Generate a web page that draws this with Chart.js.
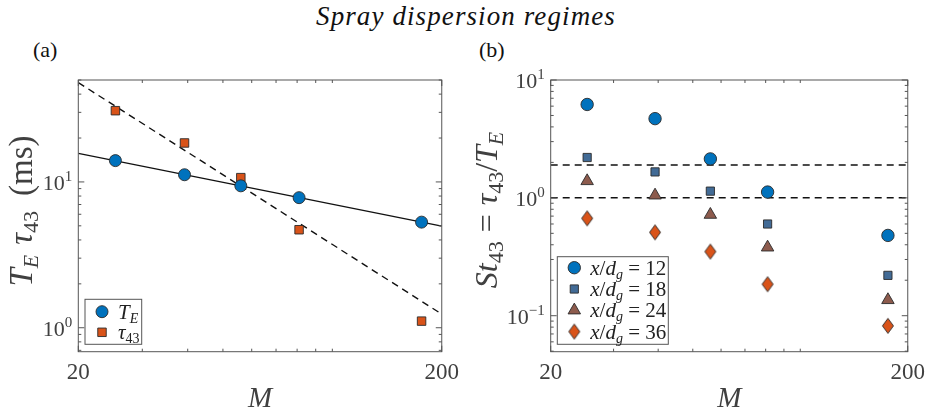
<!DOCTYPE html>
<html>
<head>
<meta charset="utf-8">
<script src="https://cdn.jsdelivr.net/npm/chart.js@4/dist/chart.umd.min.js"></script>
<style>
body { margin: 0; background: #fff; width: 932px; height: 414px; position: relative; overflow: hidden; font-family: "Liberation Serif", serif; }
#title { position: absolute; left: 0; width: 932px; top: 1px; text-align: center; font-style: italic; font-size: 27px; letter-spacing: 1.1px; color: #111; }
.pan { position: absolute; top: 0; width: 466px; height: 414px; }
.lab { position: absolute; top: 37px; font-size: 22px; color: #111; }
</style>
</head>
<body>
<div id="title">Spray dispersion regimes</div>
<div class="lab" style="left:33px">(a)</div>
<div class="lab" style="left:479px">(b)</div>
<div class="pan" style="left:0"><canvas id="chartA" width="466" height="414"></canvas></div>
<div class="pan" style="left:466px"><canvas id="chartB" width="466" height="414"></canvas></div>
<script>
"use strict"

// data
const mVals = [25.3, 39.2, 56, 81, 176];
const teVals = [14.0, 11.2, 9.4, 7.8, 5.3];      // T_E (ms)
const tauVals = [30.8, 18.5, 10.7, 4.7, 1.11];   // tau_43 (ms)
const fitM = [20, 200];
const fitTe = [15.7, 4.97];
const fitTau = [48, 1.24];

const st12 = [6.2, 4.7, 2.14, 1.12, 0.48];
const st18 = [2.2, 1.66, 1.14, 0.60, 0.22];
const st24 = [1.39, 1.05, 0.72, 0.38, 0.136];
const st36 = [0.67, 0.51, 0.35, 0.185, 0.082];
const stLines = [1.9, 1.0];

const xTicks = [20, 200];
const yTicksA = [1, 10];
const yTicksB = [0.1, 1, 10];

const blue = "#0072BD", orange = "#D95319", slate = "#426B96", brown = "#8D5B4D";
const edge = "#2a2a2a", axisCol = "#555555", textCol = "#404040";
const serif = "'Liberation Serif', serif";

function pts(xs, ys) { return xs.map((x, i) => ({ x: x, y: ys[i] })); }

// diamond marker (taller than wide)
function diamond() {
    const c = document.createElement("canvas");
    c.width = 14; c.height = 18;
    const g = c.getContext("2d");
    g.beginPath();
    g.moveTo(7, 1.5); g.lineTo(12.5, 9); g.lineTo(7, 16.5); g.lineTo(1.5, 9); g.closePath();
    g.fillStyle = orange; g.fill();
    g.strokeStyle = edge; g.lineWidth = 0.9; g.stroke();
    return c;
}
const dia = diamond();

// draw text made of pieces: [text, size, italic, dy]
function rich(ctx, parts, x, y, align) {
    let w = 0;
    parts.forEach(p => { ctx.font = (p[2] ? "italic " : "") + p[1] + "px " + serif; w += ctx.measureText(p[0]).width; });
    let cx = align === "center" ? x - w / 2 : align === "right" ? x - w : x;
    ctx.textAlign = "left";
    ctx.textBaseline = "alphabetic";
    parts.forEach(p => {
        ctx.font = (p[2] ? "italic " : "") + p[1] + "px " + serif;
        ctx.fillText(p[0], cx, y + (p[3] || 0));
        cx += ctx.measureText(p[0]).width;
    });
}

function minorVals(min, max) {
    let out = [];
    for (let e = -3; e <= 3; e++) {
        for (let k = 1; k <= 9; k++) {
            let v = k * Math.pow(10, e);
            if (v >= min * 0.999 && v <= max * 1.001) out.push({ v: v, major: k === 1 });
        }
    }
    return out;
}

// frame box with inward ticks on all four sides, y labels as 10^n
const frame = {
    id: "frame",
    afterDraw(chart, args, opts) {
        const ctx = chart.ctx, a = chart.chartArea, x = chart.scales.x, y = chart.scales.y;
        ctx.save();
        ctx.strokeStyle = axisCol;
        ctx.lineWidth = 1;
        ctx.strokeRect(a.left, a.top, a.right - a.left, a.bottom - a.top);
        ctx.beginPath();
        minorVals(x.min, x.max).forEach(t => {
            const px = x.getPixelForValue(t.v);
            const major = xTicks.includes(Math.round(t.v));
            const len = major ? 6 : 3;
            ctx.moveTo(px, a.bottom); ctx.lineTo(px, a.bottom - len);
            ctx.moveTo(px, a.top); ctx.lineTo(px, a.top + len);
        });
        minorVals(y.min, y.max).forEach(t => {
            const py = y.getPixelForValue(t.v);
            const len = t.major ? 6 : 3;
            ctx.moveTo(a.left, py); ctx.lineTo(a.left + len, py);
            ctx.moveTo(a.right, py); ctx.lineTo(a.right - len, py);
        });
        ctx.stroke();

        ctx.fillStyle = textCol;
        opts.yTicks.forEach(v => {
            const py = y.getPixelForValue(v);
            const ex = String(Math.round(Math.log10(v))).replace("-", "\u2212");
            rich(ctx, [["10", 22, false], [ex, 15, false, -9]], a.left - 6, py + 8, "right");
        });

        rich(ctx, [["M", 29, true]], (a.left + a.right) / 2, 407, "center");

        ctx.translate(opts.titleX, opts.titleY);
        ctx.rotate(-Math.PI / 2);
        rich(ctx, opts.title, 0, 0, "center");
        ctx.restore();
    }
};

// legend inside the plot
const box = {
    id: "box",
    afterDraw(chart, args, opts) {
        const ctx = chart.ctx;
        ctx.save();
        ctx.fillStyle = "#fff";
        ctx.strokeStyle = axisCol;
        ctx.lineWidth = 1;
        ctx.fillRect(opts.x, opts.y, opts.w, opts.h);
        ctx.strokeRect(opts.x, opts.y, opts.w, opts.h);
        opts.rows.forEach((r, i) => {
            const ds = chart.data.datasets[i];
            const cy = opts.y + opts.first + i * opts.step;
            ctx.fillStyle = ds.backgroundColor;
            ctx.strokeStyle = ds.borderColor;
            ctx.lineWidth = ds.borderWidth;
            Chart.helpers.drawPoint(ctx, { pointStyle: ds.pointStyle, radius: ds.pointRadius, rotation: 0, borderWidth: ds.borderWidth }, opts.x + opts.mx, cy);
            ctx.fillStyle = "#222";
            rich(ctx, r, opts.x + opts.tx, cy + 7, "left");
        });
        ctx.restore();
    }
};

function xScale(height) {
    return {
        type: "logarithmic", min: 20, max: 200,
        afterBuildTicks: s => { s.ticks = xTicks.map(v => ({ value: v })); },
        afterFit: s => { s.height = height; },
        ticks: { font: { family: serif, size: 23 }, color: textCol, padding: 7, maxRotation: 0, autoSkip: false, callback: v => String(v) },
        grid: { display: false, drawTicks: false },
        border: { display: false }
    };
}
function yScale(min, max, width, ticks) {
    return {
        type: "logarithmic", min: min, max: max,
        afterBuildTicks: s => { s.ticks = ticks.map(v => ({ value: v })); },
        afterFit: s => { s.width = width; },
        ticks: { display: false },
        grid: { display: false, drawTicks: false },
        border: { display: false }
    };
}
function marker(label, data, style, color, r) {
    return { label: label, data: data, pointStyle: style, pointRadius: r, pointHoverRadius: r,
        backgroundColor: color, borderColor: edge, borderWidth: 0.9, order: 1 };
}
function line(data, dash, w) {
    return { type: "line", data: data, showLine: true, borderColor: "#111", borderWidth: w,
        borderDash: dash, pointRadius: 0, fill: false, order: 2 };
}

new Chart(document.getElementById("chartA"), {
    type: "scatter",
    data: {
        datasets: [
            marker("T_E", pts(mVals, teVals), "circle", blue, 6),
            marker("tau_43", pts(mVals, tauVals), "rect", orange, 6),
            line(pts(fitM, fitTe), [], 1.2),
            line(pts(fitM, fitTau), [7, 5], 1.4)
        ]
    },
    options: {
        responsive: false, animation: false,
        layout: { padding: { top: 80, right: 20.7, left: 0, bottom: 0 } },
        scales: { x: xScale(62.3), y: yScale(0.685, 50, 78.3, yTicksA) },
        plugins: {
            legend: { display: false }, tooltip: { enabled: false },
            frame: { yTicks: yTicksA, titleX: 32, titleY: 211,
                title: [["T", 33, true], ["E", 22, true, 6], ["  ", 20, false], ["\u03c4", 33, true], ["43", 22, false, 6], ["   ", 20, false], ["(ms)", 33, false]] },
            box: { x: 85, y: 299.3, w: 56.7, h: 45, first: 12.4, step: 20.6, mx: 17, tx: 33,
                rows: [[["T", 21, true], ["E", 14, true, 4]], [["\u03c4", 21, true], ["43", 14, false, 4]]] }
        }
    },
    plugins: [frame, box]
});

const legRow = n => [["x", 21, true], ["/", 21, false], ["d", 21, true], ["g", 14, true, 4], [" = " + n, 21, false]];

new Chart(document.getElementById("chartB"), {
    type: "scatter",
    data: {
        datasets: [
            marker("x/dg = 12", pts(mVals, st12), "circle", blue, 6.2),
            marker("x/dg = 18", pts(mVals, st18), "rect", slate, 5.8),
            marker("x/dg = 24", pts(mVals, st24), "triangle", brown, 7.2),
            marker("x/dg = 36", pts(mVals, st36), dia, orange, 7),
            line(pts(fitM, [stLines[0], stLines[0]]), [7, 5], 1.5),
            line(pts(fitM, [stLines[1], stLines[1]]), [7, 5], 1.5)
        ]
    },
    options: {
        responsive: false, animation: false,
        layout: { padding: { top: 80, right: 21, left: 0, bottom: 0 } },
        scales: { x: xScale(62.3), y: yScale(0.0495, 10, 84.7, yTicksB) },
        plugins: {
            legend: { display: false }, tooltip: { enabled: false },
            frame: { yTicks: yTicksB, titleX: 31, titleY: 210,
                title: [["St", 32, true], ["43", 22, false, 6], ["  ", 18, false], ["=", 32, false], ["  ", 18, false], ["\u03c4", 32, true], ["43", 22, false, 6], ["/", 32, false], ["T", 32, true], ["E", 22, true, 6]] },
            box: { x: 91.3, y: 256.7, w: 111, h: 87.6, first: 11, step: 21.3, mx: 17, tx: 33,
                rows: [legRow(12), legRow(18), legRow(24), legRow(36)] }
        }
    },
    plugins: [frame, box]
});
</script>
</body>
</html>
